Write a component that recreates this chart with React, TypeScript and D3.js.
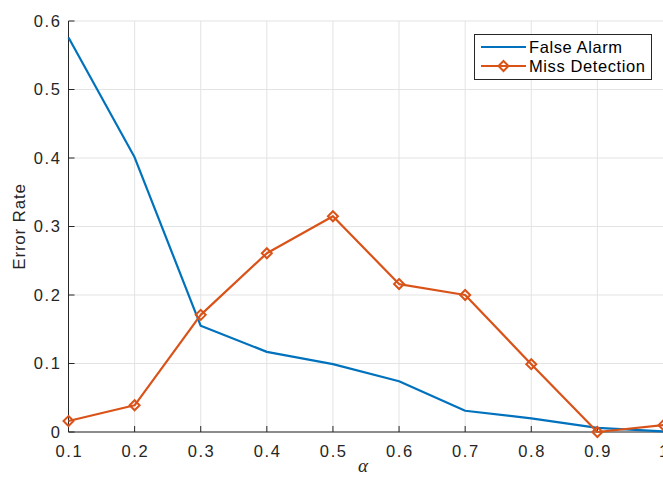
import React from "react";
import * as d3 from "d3";

const alphas = [0.1, 0.2, 0.3, 0.4, 0.5, 0.6, 0.7, 0.8, 0.9, 1.0];
const falseAlarm = [0.576, 0.401, 0.155, 0.117, 0.099, 0.074, 0.031, 0.02, 0.006, 0.001];
const missDetection = [0.016, 0.039, 0.171, 0.261, 0.315, 0.216, 0.2, 0.099, 0.0, 0.01];
const xTicks = [0.1, 0.2, 0.3, 0.4, 0.5, 0.6, 0.7, 0.8, 0.9, 1];
const yTicks = [0, 0.1, 0.2, 0.3, 0.4, 0.5, 0.6];
const seriesNames = ["False Alarm", "Miss Detection"];

const W = 663;
const H = 477;
const left = 68.5;
const right = 663.5;
const top = 21;
const bottom = 432;

const BLUE = "#0072BD";
const ORANGE = "#D95319";
const AXIS = "#262626";
const GRID = "#e3e3e3";
const FONT = "Liberation Sans, Arial, Helvetica, sans-serif";

export default function App() {
  const x = d3.scaleLinear().domain([0.1, 1]).range([left, right]);
  const y = d3.scaleLinear().domain([0, 0.6]).range([bottom, top]);
  const line = d3
    .line<number>()
    .x((_, i) => x(alphas[i]))
    .y((d) => y(d));

  const diamond = (cx: number, cy: number, r = 5) =>
    `M${cx},${cy - r}L${cx + r},${cy}L${cx},${cy + r}L${cx - r},${cy}Z`;

  const fmt = (v: number) => (v === 0 ? "0" : v === 1 ? "1" : d3.format(".1f")(v));

  return (
    <svg
      width={W}
      height={H}
      style={{ position: "absolute", left: 0, top: 0, background: "#fff" }}
      fontFamily={FONT}
    >
      {/* grid */}
      {xTicks.map((t) => (
        <line key={"gx" + t} x1={x(t)} x2={x(t)} y1={top} y2={bottom} stroke={GRID} strokeWidth={1} />
      ))}
      {yTicks.map((t) => (
        <line key={"gy" + t} x1={left} x2={right} y1={y(t)} y2={y(t)} stroke={GRID} strokeWidth={1} />
      ))}

      {/* axes */}
      <line x1={left} x2={left} y1={top} y2={bottom} stroke={AXIS} strokeWidth={1} />
      <line x1={left} x2={right} y1={bottom} y2={bottom} stroke={AXIS} strokeWidth={1} />
      {xTicks.map((t) => (
        <g key={"xt" + t}>
          <line x1={x(t)} x2={x(t)} y1={bottom} y2={bottom - 6} stroke={AXIS} strokeWidth={1} />
          <text
            x={x(t) + 0.8}
            y={bottom + 24.5}
            textAnchor="middle"
            fontSize={16.5}
            letterSpacing={1.6}
            fill={AXIS}
          >
            {fmt(t)}
          </text>
        </g>
      ))}
      {yTicks.map((t) => (
        <g key={"yt" + t}>
          <line x1={left} x2={left + 6} y1={y(t)} y2={y(t)} stroke={AXIS} strokeWidth={1} />
          <text
            x={left - 7}
            y={y(t) + 5.5}
            textAnchor="end"
            fontSize={16.5}
            letterSpacing={1.6}
            fill={AXIS}
          >
            {fmt(t)}
          </text>
        </g>
      ))}

      {/* axis labels */}
      <text
        transform={`translate(25,${(top + bottom) / 2}) rotate(-90)`}
        textAnchor="middle"
        fontSize={17}
        letterSpacing={0.8}
        fill={AXIS}
      >
        Error Rate
      </text>
      <text
        x={363}
        y={472}
        textAnchor="middle"
        fontSize={19}
        fontStyle="italic"
        fontFamily="Liberation Serif, DejaVu Serif, serif"
        fill={AXIS}
      >
        α
      </text>

      {/* series */}
      <path d={line(falseAlarm) || ""} fill="none" stroke={BLUE} strokeWidth={2.2} strokeLinejoin="round" />
      <path d={line(missDetection) || ""} fill="none" stroke={ORANGE} strokeWidth={2.2} strokeLinejoin="round" />
      {missDetection.map((v, i) => (
        <path key={"m" + i} d={diamond(x(alphas[i]), y(v))} fill="none" stroke={ORANGE} strokeWidth={2} />
      ))}

      {/* legend */}
      <g>
        <rect x={474.5} y={34.5} width={177} height={45} fill="#fff" stroke={AXIS} strokeWidth={1} />
        <line x1={481} x2={526} y1={47} y2={47} stroke={BLUE} strokeWidth={2.2} />
        <text x={529} y={53} fontSize={16.5} letterSpacing={0.6} fill="#000">
          {seriesNames[0]}
        </text>
        <line x1={481} x2={526} y1={66} y2={66} stroke={ORANGE} strokeWidth={2.2} />
        <path d={diamond(503.5, 66)} fill="none" stroke={ORANGE} strokeWidth={2} />
        <text x={529} y={72} fontSize={16.5} letterSpacing={0.6} fill="#000">
          {seriesNames[1]}
        </text>
      </g>
    </svg>
  );
}
